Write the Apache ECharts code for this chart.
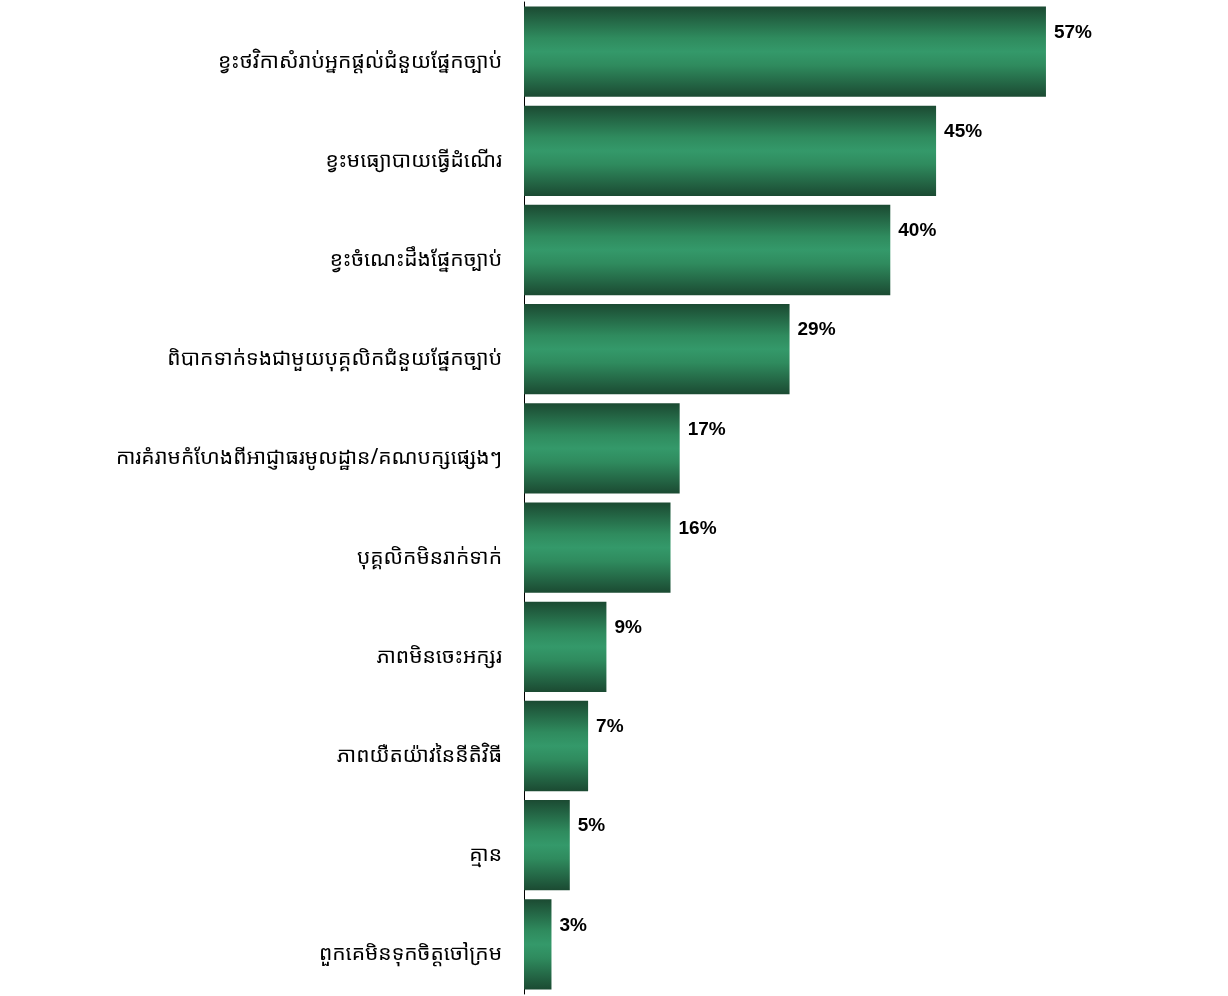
<!DOCTYPE html>
<html>
<head>
<meta charset="utf-8">
<script src="https://cdn.jsdelivr.net/npm/echarts@6/dist/echarts.min.js"></script>
<style>html,body{margin:0;padding:0;background:#fff;}#c{width:1228px;height:996px;}</style>
</head>
<body>
<div id="c"></div>
<script>
const categories = [
  'ខ្វះថវិកាសំរាប់អ្នកផ្ដល់ជំនួយផ្នែកច្បាប់',
  'ខ្វះមធ្យោបាយធ្វើដំណើរ',
  'ខ្វះចំណេះដឹងផ្នែកច្បាប់',
  'ពិបាកទាក់ទងជាមួយបុគ្គលិកជំនួយផ្នែកច្បាប់',
  'ការគំរាមកំហែងពីអាជ្ញាធរមូលដ្ឋាន/គណបក្សផ្សេងៗ',
  'បុគ្គលិកមិនរាក់ទាក់',
  'ភាពមិនចេះអក្សរ',
  'ភាពយឺតយ៉ាវនៃនីតិវិធី',
  'គ្មាន',
  'ពួកគេមិនទុកចិត្តចៅក្រម'
];
const values = [57, 45, 40, 29, 17, 16, 9, 7, 5, 3];

const chart = echarts.init(document.getElementById('c'));
chart.setOption({
  animation: false,
  grid: { left: 524, top: 2, width: 641, height: 992, containLabel: false },
  xAxis: { type: 'value', min: 0, max: 70, show: false },
  yAxis: {
    type: 'category',
    inverse: true,
    data: categories,
    axisLine: { show: true, lineStyle: { color: '#000', width: 1 } },
    axisTick: { show: false },
    axisLabel: {
      color: '#000', fontSize: 21, margin: 22,
      verticalAlign: 'top', lineHeight: 20,
      fontFamily: '"Noto Sans Khmer", "Khmer OS System", sans-serif'
    }
  },
  series: [{
    type: 'bar',
    data: values,
    barCategoryGap: '9%',
    itemStyle: {
      color: new echarts.graphic.LinearGradient(0, 0, 0, 1, [
        { offset: 0, color: '#1b4a32' },
        { offset: 0.35, color: '#2f8b5e' },
        { offset: 0.5, color: '#34996a' },
        { offset: 0.65, color: '#2f8b5e' },
        { offset: 1, color: '#1b4a32' }
      ])
    },
    label: {
      show: true,
      position: 'right',
      distance: 8,
      offset: [0, -19],
      formatter: '{c}%',
      color: '#000',
      fontSize: 19,
      fontWeight: 'bold',
      fontFamily: '"Liberation Sans Narrow", "Arial Narrow", "Liberation Sans", sans-serif'
    }
  }]
});
</script>
</body>
</html>
